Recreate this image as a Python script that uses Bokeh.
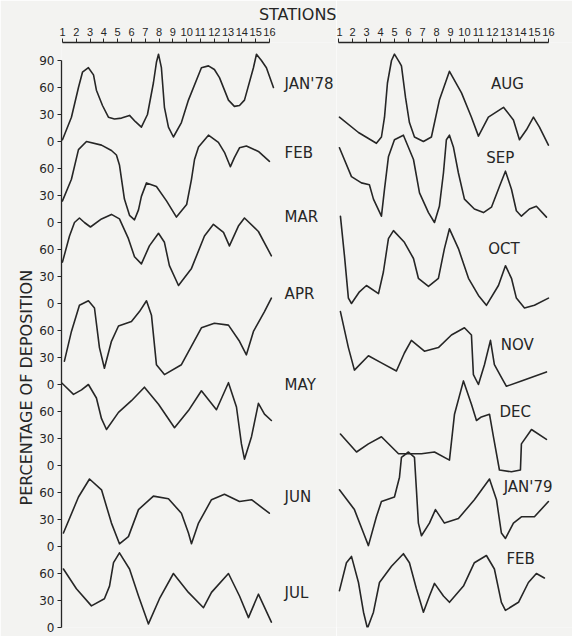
from bokeh.plotting import figure
from bokeh.layouts import row
from bokeh.models import Range1d, FixedTicker, ColumnDataSource, Title
from bokeh.embed import file_html
from bokeh.resources import INLINE
from bokeh.core.properties import value

# ---------------- data (station, percentage of deposition) ----------------
stations = list(range(1, 17))
band_step = 90          # each month strip spans 0..90 %
y_ticks = list(range(0, 7 * 90 + 1, 30))

left_months = ["JAN'78", "FEB", "MAR", "APR", "MAY", "JUN", "JUL"]
right_months = ["AUG", "SEP", "OCT", "NOV", "DEC", "JAN'79", "FEB"]

jan78 = [(1.0, 2), (1.65, 27), (2.16, 60), (2.45, 77), (2.88, 82), (3.25, 74), (3.46, 57), (3.9, 40),
         (4.33, 27), (4.77, 25), (5.28, 26), (5.86, 29), (6.29, 22), (6.72, 16), (7.16, 30), (7.59, 65),
         (7.81, 88), (7.96, 97), (8.17, 82), (8.39, 38), (8.68, 16), (9.04, 5), (9.62, 21), (10.13, 46),
         (11.07, 82), (11.58, 84), (12.01, 80), (12.38, 71), (13.03, 46), (13.46, 39), (13.83, 40),
         (14.19, 46), (14.84, 82), (15.06, 97), (15.42, 90), (15.78, 82), (16.29, 60)]
feb78 = [(1.0, 24), (1.65, 48), (2.16, 81), (2.74, 90), (3.83, 86), (4.55, 80), (4.91, 75), (5.13, 64),
         (5.49, 26), (5.86, 8), (6.22, 3), (6.51, 14), (6.72, 29), (7.09, 44), (7.81, 40), (8.54, 24),
         (9.26, 6), (10.0, 20), (10.35, 48), (10.57, 70), (10.86, 84), (11.58, 97), (12.3, 89),
         (12.74, 78), (13.17, 62), (13.46, 72), (13.83, 83), (14.33, 85), (15.2, 79), (16.0, 68)]
mar78 = [(1.0, 46), (1.51, 75), (1.87, 90), (2.23, 95), (2.59, 90), (3.03, 85), (3.83, 94), (4.55, 99),
         (5.13, 94), (5.78, 72), (6.22, 52), (6.72, 44), (7.3, 64), (7.96, 78), (8.39, 68), (8.75, 42),
         (9.41, 20), (10.35, 39), (11.29, 75), (11.94, 88), (12.67, 79), (13.1, 64), (13.75, 86),
         (14.19, 95), (15.2, 80), (16.14, 53)]
apr78 = [(1.14, 26), (1.65, 59), (2.23, 88), (2.88, 93), (3.32, 85), (3.68, 41), (4.04, 18), (4.55, 48),
         (5.06, 65), (6.0, 70), (6.58, 81), (7.09, 93), (7.45, 77), (7.81, 22), (8.39, 11), (9.62, 22),
         (11.07, 63), (12.01, 68), (13.03, 66), (13.83, 48), (14.33, 33), (14.84, 59), (15.64, 81),
         (16.14, 96)]
may78 = [(0.93, 92), (1.8, 79), (2.38, 84), (2.88, 90), (3.46, 75), (3.83, 52), (4.19, 40), (5.06, 59),
         (6.0, 72), (6.94, 87), (7.96, 68), (9.12, 42), (10.13, 61), (11.07, 83), (12.16, 62),
         (13.03, 92), (13.61, 65), (13.97, 24), (14.19, 7), (14.7, 32), (15.2, 69), (15.64, 57),
         (16.14, 50)]
jun78 = [(1.07, 15), (2.16, 55), (2.96, 75), (3.83, 63), (4.55, 26), (5.13, 3), (5.78, 11), (6.51, 41),
         (7.59, 56), (8.68, 53), (9.62, 37), (10.13, 15), (10.35, 3), (10.86, 26), (11.8, 52),
         (12.74, 58), (13.83, 50), (14.7, 52), (15.99, 37)]
jul78 = [(1.07, 65), (2.01, 43), (3.1, 24), (4.04, 32), (4.41, 46), (4.7, 72), (5.13, 83), (5.86, 65),
         (6.51, 35), (7.23, 4), (8.03, 32), (9.04, 60), (10.13, 39), (11.22, 22), (11.8, 39),
         (13.03, 60), (13.83, 35), (14.48, 11), (15.2, 37), (16.14, 6)]

aug78 = [(1.07, 27), (2.43, 10), (3.71, -2), (4.07, 5), (4.29, 27), (4.5, 65), (4.79, 90), (5.0, 97),
         (5.36, 88), (5.5, 84), (5.79, 49), (6.07, 21), (6.43, 5), (7.07, 0), (7.64, 5), (8.21, 46),
         (8.93, 78), (9.79, 54), (10.5, 27), (11.0, 6), (11.71, 27), (12.79, 38), (13.5, 24),
         (13.93, 2), (14.43, 13), (14.93, 27), (15.36, 16), (16.0, -4)]
sep78 = [(1.07, 83), (1.93, 51), (2.64, 44), (3.21, 42), (3.5, 26), (4.07, 7), (4.29, 37), (4.57, 73),
         (5.0, 92), (5.64, 97), (6.36, 70), (6.79, 33), (7.43, 11), (7.86, 0), (8.21, 18), (8.5, 55),
         (8.71, 92), (8.93, 97), (9.21, 84), (9.57, 55), (10.0, 26), (10.71, 15), (11.36, 11),
         (11.93, 17), (12.5, 40), (12.93, 57), (13.36, 37), (13.71, 13), (14.07, 7), (14.64, 15),
         (15.14, 18), (15.86, 6)]
oct78 = [(1.14, 97), (1.43, 53), (1.71, 6), (1.93, 0), (2.5, 13), (3.0, 20), (3.86, 11), (4.21, 35),
         (4.57, 72), (4.93, 81), (5.71, 68), (6.36, 50), (6.71, 28), (7.43, 19), (8.14, 28), (8.57, 61),
         (8.93, 83), (9.57, 61), (10.29, 28), (11.0, 9), (11.57, -2), (12.43, 20), (12.93, 42),
         (13.36, 28), (13.71, 6), (14.29, -5), (15.0, -2), (16.0, 6)]
nov78 = [(1.14, 81), (1.71, 41), (2.14, 16), (3.14, 32), (4.07, 24), (5.14, 15), (5.71, 35), (6.21, 49),
         (7.14, 37), (8.14, 41), (9.07, 55), (10.0, 63), (10.5, 55), (10.64, 11), (11.0, 0),
         (11.43, 22), (11.86, 49), (12.14, 22), (12.64, 8), (13.0, -2), (14.07, 4), (15.86, 14)]
dec78 = [(1.14, 35), (2.29, 15), (3.14, 24), (4.07, 32), (5.29, 13), (6.93, 13), (7.86, 15), (8.93, 6),
         (9.29, 57), (9.93, 94), (10.5, 68), (10.86, 50), (11.21, 54), (11.79, 57), (12.07, 32),
         (12.5, -5), (13.36, -7), (14.0, -5), (14.07, 24), (14.79, 40), (15.86, 29)]
jan79 = [(1.07, 63), (2.14, 41), (2.79, 15), (3.14, 1), (3.71, 33), (4.07, 50), (5.0, 55), (5.36, 77),
         (5.5, 99), (6.0, 105), (6.43, 99), (6.57, 63), (6.71, 26), (6.93, 12), (7.5, 26), (7.93, 41),
         (8.57, 26), (9.57, 31), (10.71, 52), (11.79, 75), (12.29, 52), (12.64, 15), (12.93, 9),
         (13.5, 26), (14.07, 33), (15.0, 33), (16.0, 50)]
feb79 = [(1.07, 41), (1.57, 72), (1.93, 79), (2.43, 50), (2.79, 17), (3.07, -1), (3.5, 17), (3.93, 50),
         (4.79, 68), (5.64, 82), (6.07, 72), (6.57, 43), (7.07, 17), (7.5, 35), (7.86, 49), (8.5, 35),
         (8.93, 28), (9.93, 46), (10.71, 72), (11.57, 80), (12.14, 65), (12.64, 28), (12.93, 19),
         (13.86, 28), (14.57, 50), (15.14, 60), (15.71, 55)]

left_series = [jan78, feb78, mar78, apr78, may78, jun78, jul78]
right_series = [aug78, sep78, oct78, nov78, dec78, jan79, feb79]

# month-name placement (station, level within strip)
left_label_x = [17.1] * 7
left_label_level = [64, 77, 96, 101, 90, 55, 38]
right_label_x = [11.9, 11.55, 11.7, 12.6, 12.5, 12.8, 13.0]
right_label_level = [64, 72, 61, 44, 60, 66, 76]

# ---------------- styling ----------------
BG = "#f3f3f1"
INK = "#262626"
FONT = "DejaVu Sans"
H = 636
n_bands = len(left_months)
y_range = Range1d(0, n_bands * band_step + 20)


def offset(i):
    return (n_bands - 1 - i) * band_step


def make_fig(width, x0, x1, with_y_axis, title=None):
    p = figure(width=width, height=H, x_range=Range1d(x0, x1), y_range=y_range,
               x_axis_location="above", y_axis_location="left" if with_y_axis else None,
               output_backend="svg", toolbar_location=None, title=title,
               background_fill_color=BG, border_fill_color=BG,
               min_border_top=42, min_border_bottom=9, min_border_right=0,
               min_border_left=61 if with_y_axis else 0)
    p.outline_line_color = None
    p.grid.visible = False
    ax = p.xaxis[0]
    ax.ticker = FixedTicker(ticks=stations)
    ax.bounds = (1, 16)
    ax.major_tick_out = 4
    ax.major_tick_in = 0
    ax.minor_tick_line_color = None
    ax.axis_line_color = INK
    ax.axis_line_width = 1.3
    ax.major_tick_line_color = INK
    ax.major_label_standoff = 3
    ax.major_label_text_font = "Liberation Sans"
    ax.major_label_text_font_size = "11px"
    ax.major_label_text_color = INK
    return p


left = make_fig(336, 0.93, 20.86, True, title="STATIONS")
left.title.align = "right"
left.title.text_font = FONT
left.title.text_font_size = "16px"
left.title.text_font_style = "normal"
left.title.text_color = INK
left.title.standoff = 2

ya = left.yaxis[0]
ya.ticker = FixedTicker(ticks=y_ticks)
ya.bounds = (0, n_bands * band_step)
ya.major_label_overrides = {t: ("90" if t == y_ticks[-1] else str(t % band_step)) for t in y_ticks}
ya.major_tick_out = 4
ya.major_tick_in = 0
ya.minor_tick_line_color = None
ya.axis_line_color = INK
ya.axis_line_width = 1.3
ya.major_tick_line_color = INK
ya.major_label_standoff = 3
ya.major_label_text_font = FONT
ya.major_label_text_font_size = "12px"
ya.major_label_text_color = INK

ylabel = Title(text="PERCENTAGE OF DEPOSITION", align="left", offset=122,
               text_font=FONT, text_font_size="16px", text_font_style="normal",
               text_color=INK, standoff=2)
left.add_layout(ylabel, "left")

right = make_fig(236, 0.86, 17.72, False)

for p, series, months, lx, lv in ((left, left_series, left_months, left_label_x, left_label_level),
                                  (right, right_series, right_months, right_label_x, right_label_level)):
    for i, pts in enumerate(series):
        xs = [s for s, _ in pts]
        ys = [offset(i) + v for _, v in pts]
        p.line(xs, ys, line_color=INK, line_width=1.6, line_join="round", line_cap="round")
    src = ColumnDataSource(dict(x=lx, y=[offset(i) + v for i, v in enumerate(lv)], t=months))
    p.text(x="x", y="y", text="t", source=src, text_font=value(FONT), text_font_size="15px",
           text_color=INK, text_align="left", text_baseline="middle")

layout = row(left, right)
open("out.html", "w").write(file_html(layout, INLINE))
